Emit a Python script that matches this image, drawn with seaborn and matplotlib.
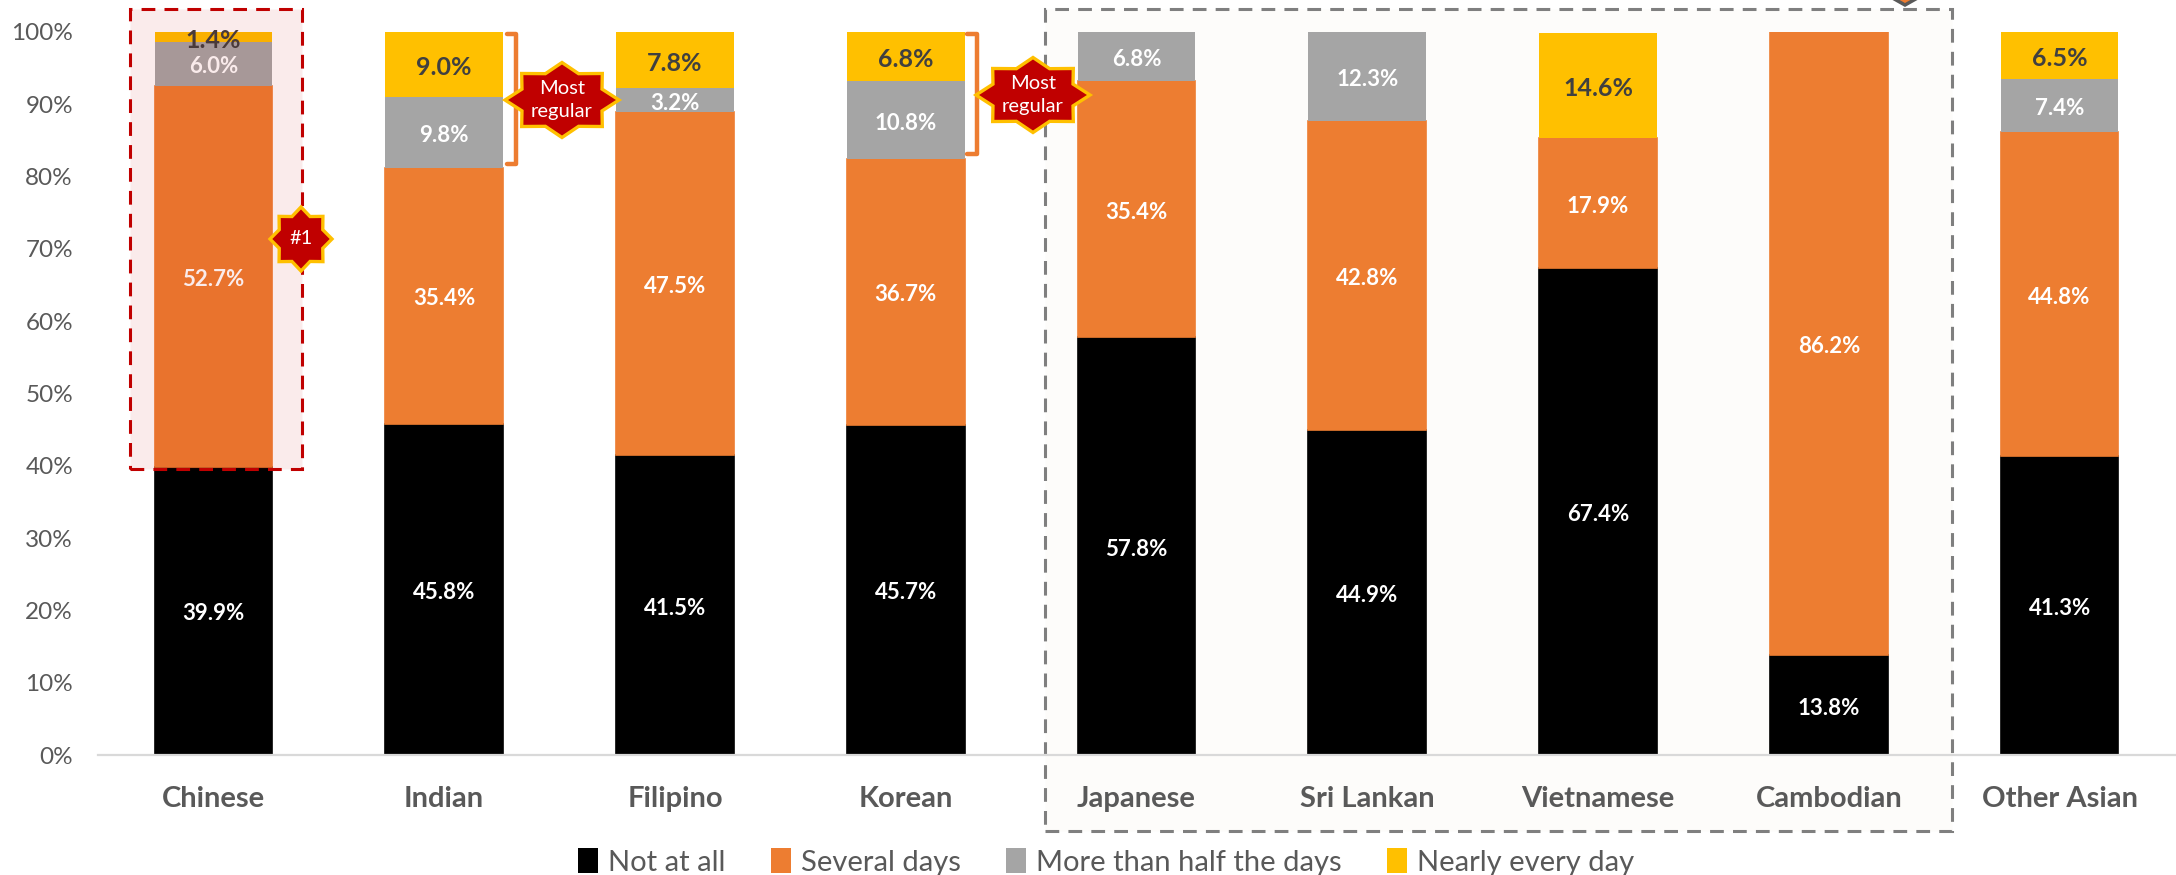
import numpy as np
import matplotlib
matplotlib.use("Agg")
import matplotlib.pyplot as plt
from matplotlib.patches import Polygon, Rectangle, Patch
from matplotlib.lines import Line2D
import seaborn as sns

categories = ["Chinese", "Indian", "Filipino", "Korean", "Japanese", "Sri Lankan", "Vietnamese", "Cambodian", "Other Asian"]
not_at_all = [39.9, 45.8, 41.5, 45.7, 57.8, 44.9, 67.4, 13.8, 41.3]
several_days = [52.7, 35.4, 47.5, 36.7, 35.4, 42.8, 17.9, 86.2, 44.8]
over_half = [6.0, 9.8, 3.2, 10.8, 6.8, 12.3, 0, 0, 7.4]
nearly_every = [1.4, 9.0, 7.8, 6.8, 0, 0, 14.6, 0, 6.5]
series_names = ["Not at all", "Several days", "More than half the days", "Nearly every day"]
series_colors = ["#000000", "#ED7D31", "#A5A5A5", "#FFC000"]
label_colors = ["white", "white", "white", "#404040"]

W, H = 2176, 875
sns.set_theme(style="white")
plt.rcParams["font.family"] = ["Lato", "DejaVu Sans"]
fig = plt.figure(figsize=(W / 100, H / 100), dpi=100, facecolor="white")
L, R, T, B = 98, 2175, 32, 755
ax = fig.add_axes([L / W, 1 - B / H, (R - L) / W, (B - T) / H])
ax.patch.set_alpha(0)
ax.set_zorder(1)


def px(x, y):
    return (x / W, 1 - y / H)


def add_rect(x0, y0, x1, y1, fc, ec, alpha_fc=1.0, z=0.5):
    fig.add_artist(Rectangle(px(x0, y1), (x1 - x0) / W, (y1 - y0) / H, transform=fig.transFigure,
                             facecolor=matplotlib.colors.to_rgba(fc, alpha_fc), edgecolor=ec, lw=2.2,
                             linestyle=(0, (4.5, 3)), zorder=z))


def add_star(cx, cy, rx, ry, text, fs):
    ang = np.deg2rad(np.arange(16) * 22.5)
    rad = np.where(np.arange(16) % 2 == 0, 1.0, 0.76)
    pts = [px(cx + rx * r * np.cos(a), cy - ry * r * np.sin(a)) for a, r in zip(ang, rad)]
    fig.add_artist(Polygon(pts, closed=True, transform=fig.transFigure, facecolor="#C00000",
                           edgecolor="#FFC000", lw=2.4, joinstyle="miter", zorder=6))
    fig.text(*px(cx, cy), text, color="white", fontsize=fs, ha="center", va="center",
             linespacing=1.45, zorder=7)


def add_bracket(x0, x1, y0, y1):
    xs = [x0, x1, x1, x0]
    ys = [y0, y0, y1, y1]
    fig.add_artist(Line2D([x / W for x in xs], [1 - y / H for y in ys], transform=fig.transFigure,
                          color="#ED7D31", lw=3.2, solid_joinstyle="round", solid_capstyle="round", zorder=5))


# grey panel behind the bars
add_rect(1045, 9, 1952, 831, "#FDFCFA", "#7F7F7F", z=0.5)

bottom = np.zeros(len(categories))
all_values = [not_at_all, several_days, over_half, nearly_every]
for vals, name, col, lc in zip(all_values, series_names, series_colors, label_colors):
    vals = np.array(vals, dtype=float)
    edge = col if col in ("#000000", "#ED7D31") else "none"
    sns.barplot(x=categories, y=vals, bottom=bottom, color=col, width=0.51, ax=ax, errorbar=None,
                saturation=1, edgecolor=edge, linewidth=1.2, zorder=2)
    labels = [f"{v:.1f}%" if v > 0 else "" for v in vals]
    ax.bar_label(ax.containers[-1], labels=labels, label_type="center", color=lc, padding=-2.2,
                 fontsize=16 if lc == "white" else 18, fontweight="bold", zorder=4)
    bottom = bottom + vals

ax.set_xlim(-0.5, 8.5)
ax.set_ylim(0, 100)
ax.set_yticks(np.arange(0, 101, 10))
ax.set_yticklabels([f"{v}%" for v in range(0, 101, 10)], color="#595959", fontsize=17.5)
ax.tick_params(axis="y", length=0, pad=18)
ax.tick_params(axis="x", length=0, pad=22.5)
for lab in ax.get_xticklabels():
    lab.set_color("#595959")
    lab.set_fontsize(21)
    lab.set_fontweight("bold")
ax.set_xlabel("")
ax.set_ylabel("")
for s in ["top", "right", "left"]:
    ax.spines[s].set_visible(False)
ax.spines["bottom"].set_color("#D9D9D9")
ax.spines["bottom"].set_linewidth(1.6)

# Chinese highlight, translucent over the bar
add_rect(129.5, 9, 302, 469, "#C00000", "#C00000", alpha_fc=0.08, z=5)

add_bracket(507, 516, 34, 164)
add_bracket(967, 977, 34, 154)
add_star(562, 100, 57, 37.5, "Most\nregular", 14.5)
add_star(1033, 95, 57, 37.5, "Most\nregular", 14.5)
add_star(301, 239, 31, 32, "#1", 14.5)

# clipped marker at the top edge of the grey panel
fig.add_artist(Polygon([px(1889, -4), px(1905, 5), px(1921, -4)], closed=True, transform=fig.transFigure,
                       facecolor="#ED7D31", edgecolor="#595959", lw=2.5, zorder=6))

handles = [Patch(facecolor=c, edgecolor="none", label=n) for c, n in zip(series_colors, series_names)]
fig.legend(handles=handles, loc="center", bbox_to_anchor=(1106 / W, 1 - 862 / H), ncol=4, frameon=False,
           fontsize=21, labelcolor="#595959", handlelength=0.68, handleheight=0.9, handletextpad=0.35,
           columnspacing=1.55, borderpad=0, borderaxespad=0)

fig.savefig("out.png", dpi=100)
